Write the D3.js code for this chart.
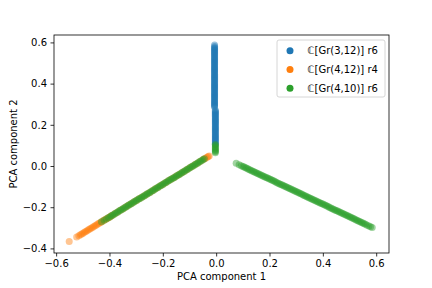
<!DOCTYPE html>
<html>
<head>
<meta charset="utf-8">
<script src="https://cdn.jsdelivr.net/npm/d3@7"></script>
<style>
  body { margin: 0; background: #fff; }
  text { font-family: "DejaVu Sans", sans-serif; }
</style>
</head>
<body>
<div id="chart"></div>
<script>
// series names for the legend
var seriesNames = ["\u2102[Gr(3,12)] r6", "\u2102[Gr(4,12)] r4", "\u2102[Gr(4,10)] r6"];
var seriesColors = ["#1f77b4", "#ff7f0e", "#2ca02c"];

// tick values
var xTicks = [-0.6, -0.4, -0.2, 0.0, 0.2, 0.4, 0.6];
var yTicks = [-0.4, -0.2, 0.0, 0.2, 0.4, 0.6];

// C[Gr(3,12)] r6 : points [pc1, pc2]
var blueUpper = [
  [-0.006, 0.588], [-0.006, 0.580], [-0.006, 0.574], [-0.006, 0.570], [-0.006, 0.566],
  [-0.006, 0.561], [-0.006, 0.556], [-0.006, 0.551], [-0.006, 0.546], [-0.006, 0.541],
  [-0.006, 0.536], [-0.006, 0.531], [-0.006, 0.526], [-0.006, 0.521], [-0.006, 0.516],
  [-0.006, 0.511], [-0.006, 0.506], [-0.006, 0.501], [-0.006, 0.496], [-0.006, 0.491],
  [-0.006, 0.486], [-0.006, 0.481], [-0.006, 0.476], [-0.006, 0.471], [-0.006, 0.466],
  [-0.006, 0.461], [-0.006, 0.456], [-0.006, 0.451], [-0.006, 0.446], [-0.006, 0.441],
  [-0.006, 0.436], [-0.006, 0.431], [-0.006, 0.426], [-0.006, 0.421], [-0.006, 0.416],
  [-0.006, 0.411], [-0.006, 0.406], [-0.006, 0.401], [-0.006, 0.396], [-0.006, 0.391],
  [-0.006, 0.386], [-0.006, 0.381], [-0.006, 0.376], [-0.006, 0.371], [-0.006, 0.366],
  [-0.006, 0.361], [-0.006, 0.356], [-0.006, 0.351], [-0.006, 0.346], [-0.006, 0.341],
  [-0.006, 0.336], [-0.006, 0.331], [-0.006, 0.326], [-0.006, 0.321], [-0.006, 0.316],
  [-0.006, 0.311], [-0.006, 0.306], [-0.006, 0.301], [-0.006, 0.296], [-0.006, 0.291],
  [-0.006, 0.286]
];
var blueLower = [
  [-0.003, 0.271], [-0.003, 0.266], [-0.003, 0.261], [-0.003, 0.256], [-0.003, 0.251],
  [-0.003, 0.246], [-0.003, 0.241], [-0.003, 0.236], [-0.003, 0.231], [-0.003, 0.226],
  [-0.003, 0.221], [-0.003, 0.216], [-0.003, 0.211], [-0.003, 0.206], [-0.003, 0.201],
  [-0.003, 0.196], [-0.003, 0.191], [-0.003, 0.186], [-0.003, 0.181], [-0.003, 0.176],
  [-0.003, 0.171], [-0.003, 0.166], [-0.003, 0.161], [-0.003, 0.156], [-0.003, 0.151],
  [-0.003, 0.146], [-0.003, 0.141], [-0.003, 0.136], [-0.003, 0.131], [-0.003, 0.126],
  [-0.003, 0.121], [-0.003, 0.116], [-0.003, 0.111], [-0.003, 0.106]
];

// C[Gr(4,12)] r4
var orangePts = [
  [-0.551, -0.367], [-0.523, -0.345], [-0.515, -0.339], [-0.509, -0.334], [-0.504, -0.330],
  [-0.499, -0.326], [-0.494, -0.322], [-0.489, -0.318], [-0.484, -0.314], [-0.479, -0.310],
  [-0.474, -0.306], [-0.469, -0.302], [-0.464, -0.298], [-0.459, -0.294], [-0.454, -0.290],
  [-0.449, -0.286], [-0.444, -0.282], [-0.439, -0.278], [-0.434, -0.274], [-0.429, -0.270],
  [-0.424, -0.266], [-0.419, -0.262], [-0.414, -0.258], [-0.409, -0.255], [-0.404, -0.251],
  [-0.399, -0.247], [-0.394, -0.243], [-0.389, -0.239], [-0.379, -0.231], [-0.369, -0.223],
  [-0.359, -0.215], [-0.349, -0.207], [-0.339, -0.199], [-0.329, -0.191], [-0.319, -0.183],
  [-0.309, -0.175], [-0.299, -0.167], [-0.289, -0.159], [-0.279, -0.152], [-0.269, -0.144],
  [-0.259, -0.136], [-0.249, -0.128], [-0.239, -0.120], [-0.229, -0.112], [-0.219, -0.104],
  [-0.209, -0.096], [-0.199, -0.088], [-0.189, -0.080], [-0.179, -0.072], [-0.169, -0.064],
  [-0.159, -0.057], [-0.149, -0.049], [-0.139, -0.041], [-0.129, -0.033], [-0.119, -0.025],
  [-0.109, -0.017], [-0.099, -0.009], [-0.089, -0.001], [-0.079, 0.007], [-0.069, 0.015],
  [-0.059, 0.023], [-0.049, 0.031], [-0.044, 0.035], [-0.039, 0.039], [-0.034, 0.043],
  [-0.030, 0.046], [-0.026, 0.049]
];

// C[Gr(4,10)] r6 : short stem, left arm, right arm
var greenStem = [
  [-0.003, 0.104], [-0.003, 0.099], [-0.003, 0.094], [-0.003, 0.089], [-0.003, 0.084],
  [-0.003, 0.079], [-0.003, 0.074], [-0.003, 0.069], [-0.003, 0.064]
];
var greenLeft = [
  [-0.430, -0.271], [-0.420, -0.263], [-0.412, -0.257], [-0.405, -0.251], [-0.399, -0.247],
  [-0.394, -0.243], [-0.389, -0.239], [-0.384, -0.235], [-0.379, -0.231], [-0.374, -0.227],
  [-0.369, -0.223], [-0.364, -0.219], [-0.359, -0.215], [-0.354, -0.211], [-0.349, -0.207],
  [-0.344, -0.203], [-0.339, -0.199], [-0.334, -0.195], [-0.329, -0.191], [-0.324, -0.187],
  [-0.319, -0.183], [-0.314, -0.179], [-0.309, -0.175], [-0.304, -0.171], [-0.299, -0.167],
  [-0.294, -0.163], [-0.289, -0.159], [-0.284, -0.156], [-0.279, -0.152], [-0.274, -0.148],
  [-0.269, -0.144], [-0.264, -0.140], [-0.259, -0.136], [-0.254, -0.132], [-0.249, -0.128],
  [-0.244, -0.124], [-0.239, -0.120], [-0.234, -0.116], [-0.229, -0.112], [-0.224, -0.108],
  [-0.219, -0.104], [-0.214, -0.100], [-0.209, -0.096], [-0.204, -0.092], [-0.199, -0.088],
  [-0.194, -0.084], [-0.189, -0.080], [-0.184, -0.076], [-0.179, -0.072], [-0.174, -0.068],
  [-0.169, -0.064], [-0.164, -0.061], [-0.159, -0.057], [-0.154, -0.053], [-0.149, -0.049],
  [-0.144, -0.045], [-0.139, -0.041], [-0.134, -0.037], [-0.129, -0.033], [-0.124, -0.029],
  [-0.119, -0.025], [-0.114, -0.021], [-0.109, -0.017], [-0.104, -0.013], [-0.099, -0.009],
  [-0.094, -0.005], [-0.089, -0.001], [-0.084, 0.003], [-0.079, 0.007], [-0.074, 0.011],
  [-0.069, 0.015], [-0.064, 0.019], [-0.059, 0.023], [-0.054, 0.027], [-0.049, 0.031],
  [-0.044, 0.035]
];
var greenRight = [
  [0.075, 0.013], [0.086, 0.006], [0.094, 0.001], [0.100, -0.002], [0.105, -0.005],
  [0.110, -0.008], [0.115, -0.011], [0.120, -0.014], [0.125, -0.018], [0.130, -0.021],
  [0.135, -0.024], [0.140, -0.027], [0.145, -0.030], [0.150, -0.033], [0.155, -0.036],
  [0.160, -0.039], [0.165, -0.042], [0.170, -0.045], [0.175, -0.048], [0.180, -0.051],
  [0.185, -0.054], [0.190, -0.057], [0.195, -0.060], [0.200, -0.063], [0.205, -0.066],
  [0.210, -0.069], [0.215, -0.072], [0.220, -0.075], [0.225, -0.079], [0.230, -0.082],
  [0.235, -0.085], [0.240, -0.088], [0.245, -0.091], [0.250, -0.094], [0.255, -0.097],
  [0.260, -0.100], [0.265, -0.103], [0.270, -0.106], [0.275, -0.109], [0.280, -0.112],
  [0.285, -0.115], [0.290, -0.118], [0.295, -0.121], [0.300, -0.124], [0.305, -0.127],
  [0.310, -0.130], [0.315, -0.133], [0.320, -0.136], [0.325, -0.140], [0.330, -0.143],
  [0.335, -0.146], [0.340, -0.149], [0.345, -0.152], [0.350, -0.155], [0.355, -0.158],
  [0.360, -0.161], [0.365, -0.164], [0.370, -0.167], [0.375, -0.170], [0.380, -0.173],
  [0.385, -0.176], [0.390, -0.179], [0.395, -0.182], [0.400, -0.185], [0.405, -0.188],
  [0.410, -0.191], [0.415, -0.194], [0.420, -0.197], [0.425, -0.201], [0.430, -0.204],
  [0.435, -0.207], [0.440, -0.210], [0.445, -0.213], [0.450, -0.216], [0.455, -0.219],
  [0.460, -0.222], [0.465, -0.225], [0.470, -0.228], [0.475, -0.231], [0.480, -0.234],
  [0.485, -0.237], [0.490, -0.240], [0.495, -0.243], [0.500, -0.246], [0.505, -0.249],
  [0.510, -0.252], [0.515, -0.255], [0.520, -0.258], [0.525, -0.262], [0.530, -0.265],
  [0.535, -0.268], [0.540, -0.271], [0.545, -0.274], [0.550, -0.277], [0.555, -0.280],
  [0.560, -0.283], [0.566, -0.287], [0.573, -0.291], [0.579, -0.295], [0.585, -0.298]
];

var series = [
  blueUpper.concat(blueLower),
  orangePts,
  greenStem.concat(greenLeft, greenRight)
];

var svgWidth = 432;
var svgHeight = 288;

var margin = { top: 35, right: 43, bottom: 35, left: 54 };
var width = svgWidth - margin.left - margin.right;
var height = svgHeight - margin.top - margin.bottom;

var svg = d3.select("#chart")
  .append("svg")
  .attr("width", svgWidth)
  .attr("height", svgHeight);

var chartGroup = svg.append("g")
  .attr("transform", `translate(${margin.left}, ${margin.top})`);

var xLinearScale = d3.scaleLinear()
  .domain([-0.608, 0.648])
  .range([0, width]);

var yLinearScale = d3.scaleLinear()
  .domain([-0.4223, 0.636])
  .range([height, 0]);

// points, one group per series (drawn in legend order)
series.forEach(function (pts, i) {
  chartGroup.append("g")
    .selectAll("circle")
    .data(pts)
    .enter()
    .append("circle")
    .attr("cx", d => xLinearScale(d[0]))
    .attr("cy", d => yLinearScale(d[1]))
    .attr("r", 3.5)
    .attr("fill", seriesColors[i])
    .attr("fill-opacity", 0.45);
});

// axes
var fmt = d3.format(".1f");
var bottomAxis = d3.axisBottom(xLinearScale)
  .tickValues(xTicks).tickFormat(fmt)
  .tickSizeInner(3.5).tickSizeOuter(0).tickPadding(3.5);
var leftAxis = d3.axisLeft(yLinearScale)
  .tickValues(yTicks).tickFormat(fmt)
  .tickSizeInner(3.5).tickSizeOuter(0).tickPadding(3.5);

var xAxis = chartGroup.append("g")
  .attr("transform", `translate(0, ${height})`)
  .call(bottomAxis);
var yAxis = chartGroup.append("g")
  .call(leftAxis);

[xAxis, yAxis].forEach(function (ax) {
  ax.select(".domain").remove();
  ax.selectAll("line").attr("stroke", "#000").attr("stroke-width", 0.8);
  ax.selectAll("text")
    .attr("fill", "#000")
    .style("font-family", "DejaVu Sans")
    .style("font-size", "10px");
});

// spines
chartGroup.append("rect")
  .attr("width", width)
  .attr("height", height)
  .attr("fill", "none")
  .attr("stroke", "#000")
  .attr("stroke-width", 0.8);

// axis labels
chartGroup.append("text")
  .attr("x", width / 2)
  .attr("y", height + 27)
  .attr("text-anchor", "middle")
  .style("font-size", "10px")
  .text("PCA component 1");

chartGroup.append("text")
  .attr("transform", "rotate(-90)")
  .attr("x", -height / 2)
  .attr("y", -margin.left + 16.5)
  .attr("text-anchor", "middle")
  .style("font-size", "10px")
  .text("PCA component 2");

// legend
var legend = svg.append("g")
  .attr("transform", "translate(277, 40)");

legend.append("rect")
  .attr("width", 108)
  .attr("height", 57)
  .attr("rx", 2)
  .attr("fill", "#fff")
  .attr("fill-opacity", 0.8)
  .attr("stroke", "#cccccc")
  .attr("stroke-width", 0.8);

seriesNames.forEach(function (name, i) {
  var row = legend.append("g")
    .attr("transform", `translate(0, ${10.7 + i * 18.8})`);
  row.append("circle")
    .attr("cx", 13)
    .attr("cy", 0)
    .attr("r", 3.5)
    .attr("fill", seriesColors[i]);
  row.append("text")
    .attr("x", 30.5)
    .attr("y", 3.6)
    .style("font-size", "10px")
    .text(name);
});
</script>
</body>
</html>
